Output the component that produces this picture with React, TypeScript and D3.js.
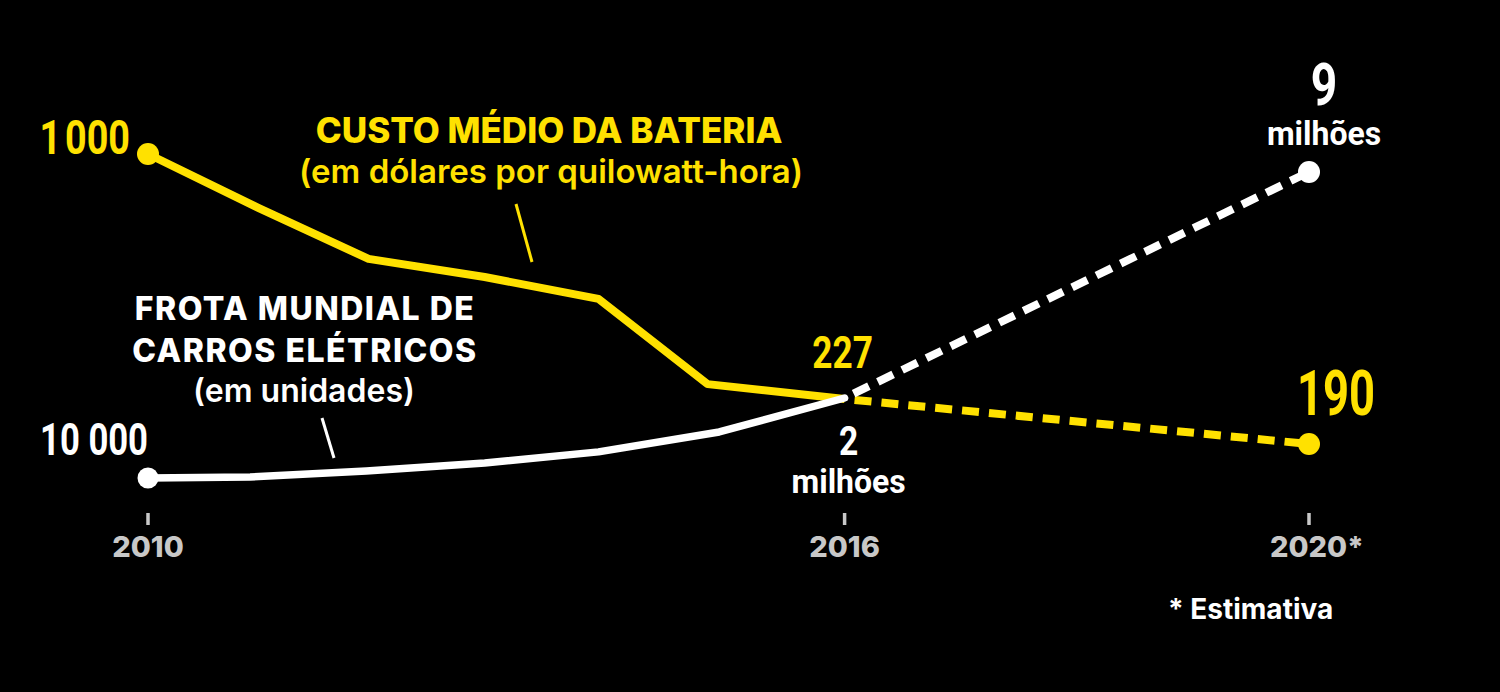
import React from "react";
import * as d3 from "d3";

// ---------- data ----------
const batteryYears = [2010, 2010.95, 2011.9, 2012.9, 2013.88, 2014.82, 2016, 2020];
const batteryCost = [1000, 830, 669, 612, 543, 274, 227, 190]; // US$/kWh
const fleetYears = [2010, 2010.88, 2011.88, 2012.9, 2013.88, 2014.92, 2016, 2020];
const fleetUnits = [10000, 35000, 185000, 385000, 660000, 1155000, 2000000, 9000000];
const tickYears = [2010, 2016, 2020];
const tickLabels = ["2010", "2016", "2020"];
const estimateIndex = 6; // from this point on the series is an estimate

const batteryTitle = ["CUSTO MÉDIO DA BATERIA", "(em dólares por quilowatt-hora)"];
const fleetTitle = ["FROTA MUNDIAL DE", "CARROS ELÉTRICOS", "(em unidades)"];
const footnote = "* Estimativa";

// ---------- style ----------
const W = 1500;
const H = 692;
const YELLOW = "#ffe100";
const WHITE = "#ffffff";
const GREY = "#c8c8c8";
const SANS = "Inter, 'Open Sans', Roboto, sans-serif";
const COND = "Roboto, 'Liberation Sans', sans-serif";

type P = { x: number; y: number };

function Cond({ x, y, size, sx, anchor, fill, children }: any) {
  return (
    <text
      transform={`translate(${x},${y}) scale(${sx},1)`}
      textAnchor={anchor}
      fontFamily={COND}
      fontWeight={700}
      fontSize={size}
      fill={fill}
    >
      {children}
    </text>
  );
}

export default function App() {
  const x = d3.scaleLinear().domain([2010, 2020]).range([148, 1309]);
  const yBattery = d3.scaleLinear().domain([190, 227, 1000]).range([444, 399, 154]);
  const yFleet = d3.scaleLinear().domain([10000, 2000000, 9000000]).range([478, 398, 172]);

  const battery: P[] = batteryYears.map((yr, i) => ({ x: x(yr), y: yBattery(batteryCost[i]) }));
  const fleet: P[] = fleetYears.map((yr, i) => ({ x: x(yr), y: yFleet(fleetUnits[i]) }));

  const line = d3
    .line<P>()
    .x((d) => d.x)
    .y((d) => d.y);

  const bSolid = battery.slice(0, estimateIndex + 1);
  const bDash = battery.slice(estimateIndex);
  const fSolid = fleet.slice(0, estimateIndex + 1);
  const fDash = fleet.slice(estimateIndex);

  const b0 = battery[0];
  const bN = battery[battery.length - 1];
  const bE = battery[estimateIndex];
  const f0 = fleet[0];
  const fN = fleet[fleet.length - 1];
  const fE = fleet[estimateIndex];

  return (
    <svg
      width={W}
      height={H}
      viewBox={`0 0 ${W} ${H}`}
      style={{ position: "absolute", left: 0, top: 0, display: "block" }}
    >
      <rect x={0} y={0} width={W} height={H} fill="#000" />

      {/* axis ticks */}
      {tickYears.map((yr, i) => (
        <g key={yr}>
          <line x1={x(yr)} x2={x(yr)} y1={513} y2={525} stroke={GREY} strokeWidth={3.5} />
          <text
            x={x(yr)}
            y={557}
            dx={yr === 2020 ? 8 : 0}
            textAnchor="middle"
            fontFamily={SANS}
            fontWeight={800}
            fontSize={29}
            fill={GREY}
          >
            {tickLabels[i]}
            {yr === 2020 ? "*" : ""}
          </text>
        </g>
      ))}

      {/* battery cost */}
      <path
        d={line(bDash) || ""}
        fill="none"
        stroke={YELLOW}
        strokeWidth={8}
        strokeDasharray="17 10"
        strokeDashoffset={17}
      />
      <path d={line(bSolid) || ""} fill="none" stroke={YELLOW} strokeWidth={8} strokeLinejoin="round" />
      <circle cx={b0.x} cy={b0.y} r={11} fill={YELLOW} />
      <circle cx={bN.x} cy={bN.y} r={11} fill={YELLOW} />

      {/* fleet */}
      <path
        d={line(fDash) || ""}
        fill="none"
        stroke={WHITE}
        strokeWidth={8}
        strokeDasharray="17 10"
        strokeDashoffset={17}
      />
      <path
        d={line(fSolid) || ""}
        fill="none"
        stroke={WHITE}
        strokeWidth={7.5}
        strokeLinejoin="round"
        strokeLinecap="round"
      />
      <circle cx={f0.x} cy={f0.y} r={10.5} fill={WHITE} />
      <circle cx={fN.x} cy={fN.y} r={11} fill={WHITE} />

      {/* value labels */}
      <Cond x={b0.x - 18} y={b0.y} size={49} sx={0.77} anchor="end" fill={YELLOW}>
        {"1\u200A000"}
      </Cond>
      <Cond x={bE.x - 2} y={bE.y - 31} size={44} sx={0.8} anchor="middle" fill={YELLOW}>
        227
      </Cond>
      <Cond x={bN.x + 27} y={bN.y - 29} size={63} sx={0.72} anchor="middle" fill={YELLOW}>
        190
      </Cond>

      <Cond x={f0.x} y={f0.y - 23} size={45} sx={0.77} anchor="end" fill={WHITE}>
        10 000
      </Cond>
      <Cond x={fE.x + 4} y={fE.y + 57} size={40} sx={0.84} anchor="middle" fill={WHITE}>
        2
      </Cond>
      <Cond x={fE.x + 4} y={fE.y + 95} size={34} sx={0.94} anchor="middle" fill={WHITE}>
        milhões
      </Cond>
      <Cond x={fN.x + 15} y={fN.y - 67} size={60} sx={0.77} anchor="middle" fill={WHITE}>
        9
      </Cond>
      <Cond x={fN.x + 15} y={fN.y - 27} size={34} sx={0.94} anchor="middle" fill={WHITE}>
        milhões
      </Cond>

      {/* series titles */}
      <text textAnchor="middle" fontFamily={SANS} fill={YELLOW}>
        <tspan x={549} y={143} fontWeight={800} fontSize={35}>
          {batteryTitle[0]}
        </tspan>
        <tspan x={551} y={183} fontWeight={600} fontSize={33}>
          {batteryTitle[1]}
        </tspan>
      </text>
      <line x1={516} y1={204} x2={532} y2={262} stroke={YELLOW} strokeWidth={3} />

      <text textAnchor="middle" fontFamily={SANS} fill={WHITE}>
        <tspan x={305} y={320} fontWeight={800} fontSize={32} letterSpacing={1.5}>
          {fleetTitle[0]}
        </tspan>
        <tspan x={305} y={362} fontWeight={800} fontSize={32} letterSpacing={1.5}>
          {fleetTitle[1]}
        </tspan>
        <tspan x={304} y={402} fontWeight={600} fontSize={32}>
          {fleetTitle[2]}
        </tspan>
      </text>
      <line x1={322} y1={418} x2={334} y2={458} stroke={WHITE} strokeWidth={3} />

      {/* footnote */}
      <text x={1168} y={619} fontFamily={SANS} fontWeight={700} fontSize={28} fill={WHITE}>
        {footnote}
      </text>
    </svg>
  );
}
